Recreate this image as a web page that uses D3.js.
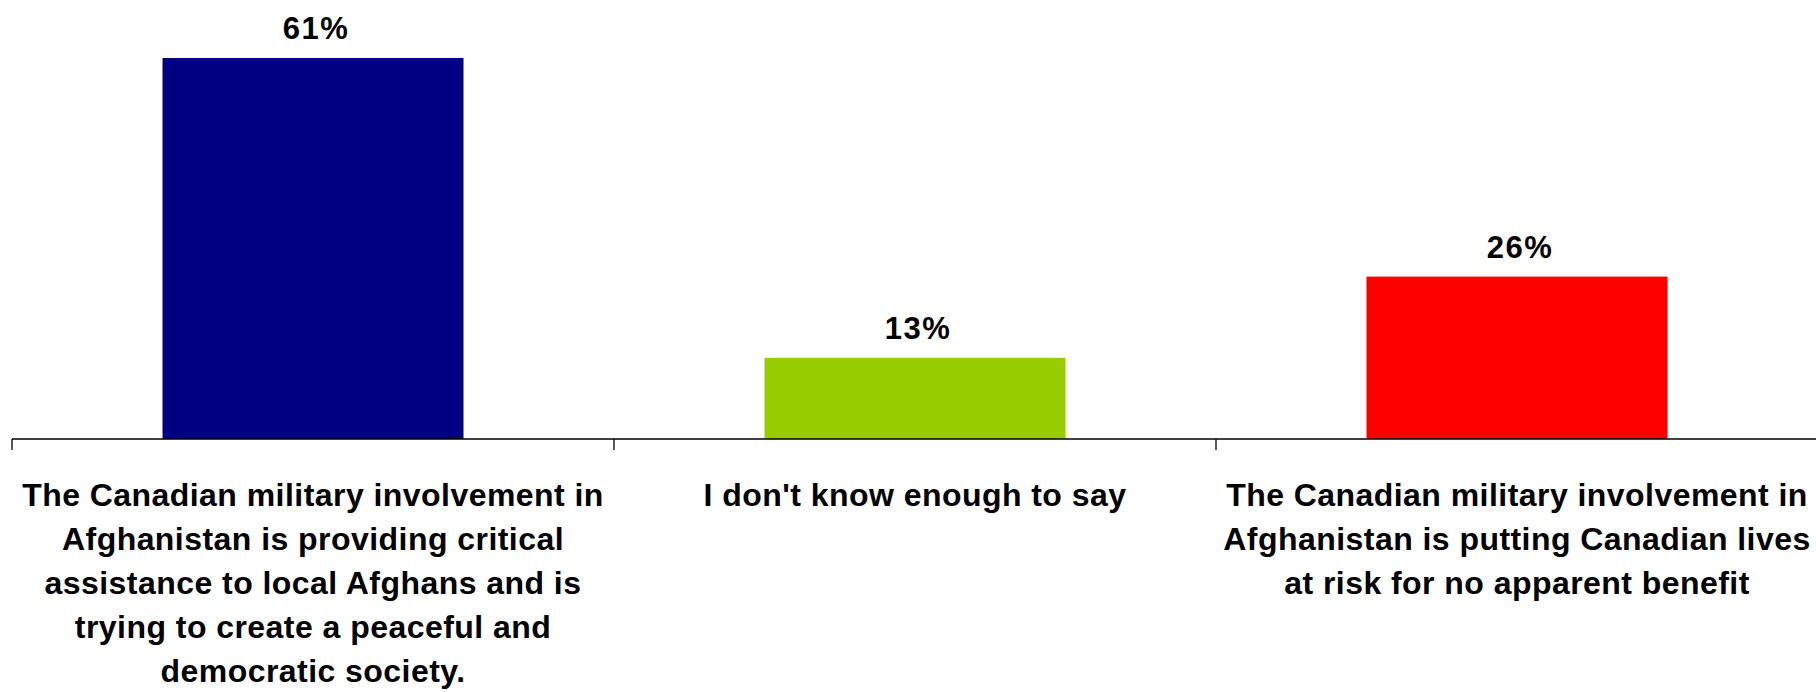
<!DOCTYPE html>
<html>
<head>
<meta charset="utf-8">
<script src="https://cdn.jsdelivr.net/npm/d3@7"></script>
<style>
  html, body { margin: 0; padding: 0; background: #fff; }
  svg { display: block; }
  .cat { font-family: "Liberation Sans Narrow", "Arial Narrow", "Liberation Sans", Arial, sans-serif; font-weight: bold; fill: #000; }
  .val { font-family: "Liberation Sans", Arial, Helvetica, sans-serif; font-weight: bold; fill: #000; }
</style>
</head>
<body>
<svg id="chart" width="1816" height="692"></svg>
<script>
const categories = ["providing", "dontknow", "risk"];
const categoryLines = [
  ["The Canadian military involvement in", "Afghanistan is providing critical", "assistance to local Afghans and is", "trying to create a peaceful and", "democratic society."],
  ["I don't know enough to say"],
  ["The Canadian military involvement in", "Afghanistan is putting Canadian lives", "at risk for no apparent benefit"]
];
const values = [61, 13, 26];
const valueLabels = ["61%", "13%", "26%"];
const colors = ["#000080", "#99CC00", "#FF0000"];

const svg = d3.select("#chart");
const axisY = 439;

const x = d3.scaleBand().domain(categories).range([12, 1818]).paddingInner(0).paddingOuter(0);
const y = d3.scaleLinear().domain([0, 70]).range([axisY, axisY - 70 * 6.246]);
const barW = x.bandwidth() * 0.5;

svg.selectAll("rect.bar").data(categories).enter().append("rect")
  .attr("class", "bar")
  .attr("x", d => x(d) + (x.bandwidth() - barW) / 2)
  .attr("width", barW)
  .attr("y", (d, i) => y(values[i]))
  .attr("height", (d, i) => y(0) - y(values[i]))
  .attr("fill", (d, i) => colors[i]);

// axis
const axis = d3.axisBottom(x).tickSize(0).tickFormat("");
const gAxis = svg.append("g").attr("transform", `translate(0,${axisY})`).call(axis);
gAxis.select(".domain").attr("stroke", "#000").attr("stroke-width", 1.3).attr("d", `M${x.range()[0]},0H${x.range()[1]}`);
const bounds = categories.map(c => x(c)).concat([x.range()[1]]);
gAxis.selectAll("line.bt").data(bounds).enter().append("line")
  .attr("class", "bt")
  .attr("x1", d => d).attr("x2", d => d)
  .attr("y1", 0).attr("y2", 11)
  .attr("stroke", "#000").attr("stroke-width", 1.3);

// value labels
svg.selectAll("text.val").data(categories).enter().append("text")
  .attr("class", "val")
  .attr("x", d => x(d) + x.bandwidth() / 2 + 3)
  .attr("y", (d, i) => y(values[i]) - 18.5)
  .attr("text-anchor", "middle")
  .attr("font-size", 31)
  .attr("letter-spacing", 1.5)
  .text((d, i) => valueLabels[i]);

// category labels
const lineH = 44;
categories.forEach((c, i) => {
  const t = svg.append("text")
    .attr("class", "cat")
    .attr("text-anchor", "middle")
    .attr("font-size", 32)
    .attr("letter-spacing", 0.45);
  categoryLines[i].forEach((ln, j) => {
    t.append("tspan")
      .attr("x", x(c) + x.bandwidth() / 2)
      .attr("y", 506 + j * lineH)
      .text(ln);
  });
});
</script>
</body>
</html>
